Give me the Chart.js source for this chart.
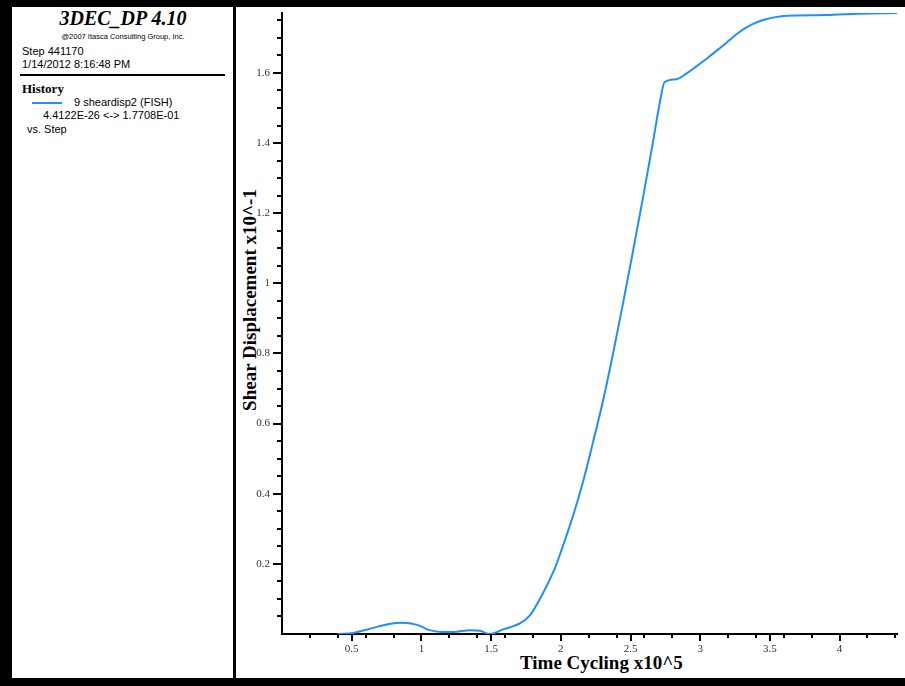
<!DOCTYPE html>
<html>
<head>
<meta charset="utf-8">
<script src="https://cdn.jsdelivr.net/npm/chart.js@4.4.1/dist/chart.umd.min.js"></script>
<style>
  body { margin: 0; background: #fff; }
  #wrap { position: relative; width: 905px; height: 686px; overflow: hidden; background: #fff; }
  .blk { position: absolute; background: #000; }
  .t { position: absolute; white-space: nowrap; color: #000; }
  .sans { font-family: "Liberation Sans", Arial, sans-serif; font-size: 11px; }
  #chart { position: absolute; left: 0; top: 0; }
</style>
</head>
<body>
<div id="wrap">
  <!-- frame -->
  <div class="blk" style="left:0;top:0;width:905px;height:7px"></div>
  <div class="blk" style="left:0;top:0;width:12px;height:686px"></div>
  <div class="blk" style="left:0;top:678px;width:905px;height:8px"></div>
  <div class="blk" style="left:233px;top:0;width:3px;height:686px"></div>

  <!-- left panel -->
  <div class="t" style="left:20px;width:206px;top:7px;text-align:center;font:italic bold 20px 'Liberation Serif',serif">3DEC_DP 4.10</div>
  <div class="t" style="left:20px;width:206px;top:32px;text-align:center;font:7.5px 'Liberation Sans',sans-serif">@2007 Itasca Consulting Group, Inc.</div>
  <div class="t sans" style="left:22px;top:45px">Step 441170</div>
  <div class="t sans" style="left:22px;top:58px">1/14/2012 8:16:48 PM</div>
  <div class="blk" style="left:20px;top:74px;width:205px;height:2px"></div>
  <div class="t" style="left:22px;top:81px;font:bold 13px 'Liberation Serif',serif">History</div>
  <div class="blk" style="left:32px;top:102px;width:30px;height:2px;background:#1e8fff"></div>
  <div class="t sans" style="left:74px;top:96px">9 sheardisp2 (FISH)</div>
  <div class="t sans" style="left:43px;top:109px">4.4122E-26 &lt;-&gt; 1.7708E-01</div>
  <div class="t sans" style="left:27px;top:123px">vs. Step</div>

  <!-- axis titles -->
  <div class="t" style="left:520px;top:652px;font:bold 19px 'Liberation Serif',serif">Time Cycling x10^5</div>
  <div class="t" style="left:250px;top:300px;font:bold 19px 'Liberation Serif',serif;transform:translate(-50%,-50%) rotate(-90deg)">Shear Displacement x10^-1</div>

  <canvas id="chart" width="905" height="686"></canvas>
</div>
<script>
// time cycling (x10^5)
var steps = [0.40, 0.51, 0.64, 0.76, 0.86, 0.97, 1.06, 1.14, 1.23, 1.35, 1.42, 1.49, 1.59, 1.71, 1.78,
             1.87, 1.96, 2.01, 2.09, 2.16, 2.23, 2.30, 2.38, 2.44, 2.51, 2.59, 2.66, 2.71, 2.745, 2.83,
             2.90, 2.97, 3.05, 3.13, 3.20, 3.26, 3.32, 3.38, 3.45, 3.54, 3.62, 3.90, 4.14, 4.41];
// shear displacement (x10^-1)
var shear = [0.000, 0.003, 0.016, 0.028, 0.032, 0.026, 0.011, 0.006, 0.006, 0.011, 0.009, 0.000, 0.014, 0.031, 0.054,
             0.115, 0.190, 0.245, 0.340, 0.435, 0.545, 0.660, 0.810, 0.930, 1.075, 1.245, 1.400, 1.515, 1.574, 1.582,
             1.598, 1.618, 1.642, 1.667, 1.690, 1.710, 1.727, 1.740, 1.751, 1.759, 1.763, 1.765, 1.769, 1.7708];

var xLabels = [0.5, 1, 1.5, 2, 2.5, 3, 3.5, 4];
var yLabels = [0.2, 0.4, 0.6, 0.8, 1, 1.2, 1.4, 1.6];
var xMinor = [0.2, 0.4, 0.6, 0.8, 1, 1.2, 1.4, 1.6, 1.8, 2, 2.2, 2.4, 2.6, 2.8, 3, 3.2, 3.4, 3.6, 3.8, 4, 4.2, 4.4];
var yMinor = [];
for (var k = 1; k <= 35; k++) yMinor.push(k * 0.05);

var points = [];
for (var i in steps) {
  points.push({x: steps[i], y: shear[i]});
}

// tick marks drawn off the scales, two lengths like the original
var tickMarks = {
  id: 'tickMarks',
  afterDraw: function(chart) {
    var ctx = chart.ctx;
    var xs = chart.scales.x, ys = chart.scales.y;
    var bottom = chart.chartArea.bottom, left = chart.chartArea.left;
    ctx.save();
    ctx.strokeStyle = '#000';
    ctx.lineWidth = 2;
    ctx.beginPath();
    xMinor.forEach(function(v) {
      var px = Math.round(xs.getPixelForValue(v));
      ctx.moveTo(px, bottom); ctx.lineTo(px, bottom + 4);
    });
    xLabels.forEach(function(v) {
      var px = Math.round(xs.getPixelForValue(v));
      ctx.moveTo(px, bottom); ctx.lineTo(px, bottom + 7);
    });
    yMinor.forEach(function(v) {
      var py = Math.round(ys.getPixelForValue(v));
      ctx.moveTo(left, py); ctx.lineTo(left - 5, py);
    });
    yLabels.forEach(function(v) {
      var py = Math.round(ys.getPixelForValue(v));
      ctx.moveTo(left, py); ctx.lineTo(left - 9, py);
    });
    ctx.stroke();
    ctx.restore();
  }
};

var ctx = document.getElementById('chart');

var chart = new Chart(ctx, {
  type: 'line',
  data: {
    datasets: [
      {
        label: '9 sheardisp2 (FISH)',
        data: points,
        borderColor: '#1e8fff',
        borderWidth: 2,
        pointRadius: 0,
        cubicInterpolationMode: 'monotone',
        fill: false
      }
    ]
  },
  options: {
    responsive: false,
    animation: false,
    events: [],
    layout: { padding: { left: 0, top: 13, right: 8, bottom: 0 } },
    plugins: { legend: { display: false }, tooltip: { enabled: false } },
    scales: {
      x: {
        type: 'linear',
        min: 0,
        max: 4.4117,
        grid: { display: false, drawTicks: false },
        border: { display: true, color: '#000', width: 2 },
        afterBuildTicks: function(scale) {
          scale.ticks = xLabels.map(function(v) { return {value: v}; });
        },
        afterFit: function(scale) {
          scale.height = 52;
          scale.paddingLeft = 0;
          scale.paddingRight = 0;
        },
        ticks: {
          autoSkip: false,
          maxRotation: 0,
          padding: 9,
          color: '#333',
          font: { family: 'Liberation Serif', size: 11 },
          callback: function(v) { return String(v); }
        }
      },
      y: {
        type: 'linear',
        min: 0,
        max: 1.7708,
        grid: { display: false, drawTicks: false },
        border: { display: true, color: '#000', width: 2 },
        afterBuildTicks: function(scale) {
          scale.ticks = yLabels.map(function(v) { return {value: v}; });
        },
        afterFit: function(scale) {
          scale.width = 282;
          scale.paddingTop = 0;
          scale.paddingBottom = 0;
        },
        ticks: {
          autoSkip: false,
          padding: 12,
          color: '#333',
          font: { family: 'Liberation Serif', size: 11 },
          callback: function(v) { return String(v); }
        }
      }
    }
  },
  plugins: [tickMarks]
});
</script>
</body>
</html>
